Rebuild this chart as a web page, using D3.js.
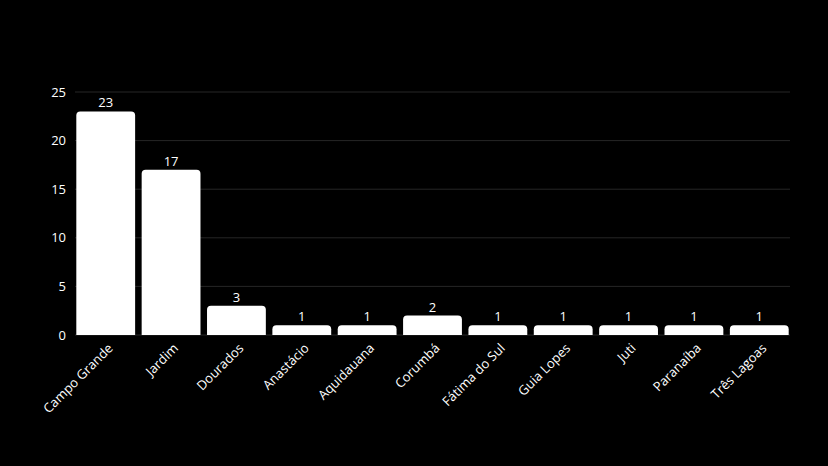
<!DOCTYPE html>
<html><head><meta charset="utf-8">
<script src="https://cdn.jsdelivr.net/npm/d3@7"></script>
<style>body{margin:0;background:#000}svg{display:block}text{font-family:"Open Sans",sans-serif}</style>
</head><body><svg id="c" width="828" height="466"></svg>
<script>
const categories = ["Campo Grande","Jardim","Dourados","Anastácio","Aquidauana","Corumbá","Fátima do Sul","Guia Lopes","Juti","Paranaíba","Três Lagoas"];
const values = [23,17,3,1,1,2,1,1,1,1,1];
const yTicks = [0,5,10,15,20,25];

const svg = d3.select("#c");
const m = {l:75, r:38, t:92, b:131};
const W = 828, H = 466;
const x = d3.scaleBand().domain(categories).range([m.l, W-m.r]).paddingInner(0.1).paddingOuter(0.02);
const y = d3.scaleLinear().domain([0,25]).range([H-m.b, m.t]);

svg.append("g").selectAll("line").data(yTicks).join("line")
  .attr("x1", m.l).attr("x2", W-m.r).attr("y1", d=>y(d)).attr("y2", d=>y(d))
  .attr("stroke", "#262626").attr("stroke-width", 1);

svg.append("g").selectAll("text").data(yTicks).join("text")
  .attr("x", 66).attr("y", d=>y(d)).attr("dy","0.35em").attr("text-anchor","end")
  .attr("fill","#fff").attr("font-size",13).text(d=>d);

const r = 4;
svg.append("g").selectAll("path").data(categories).join("path")
  .attr("fill","#fff")
  .attr("d",(c,i)=>{
    const x0=x(c), w=x.bandwidth(), y0=y(values[i]), yb=y(0);
    return `M${x0},${yb}V${y0+r}Q${x0},${y0} ${x0+r},${y0}H${x0+w-r}Q${x0+w},${y0} ${x0+w},${y0+r}V${yb}Z`;
  });

svg.append("g").selectAll("text").data(categories).join("text")
  .attr("x", c=>x(c)+x.bandwidth()/2).attr("y",(c,i)=>y(values[i])-4)
  .attr("text-anchor","middle").attr("fill","#fff").attr("font-size",13)
  .text((c,i)=>values[i]);

svg.append("g").selectAll("text").data(categories).join("text")
  .attr("transform", c=>`translate(${x(c)+x.bandwidth()/2+8},${H-m.b+14}) rotate(-45)`)
  .attr("text-anchor","end").attr("fill","#fff").attr("font-size",13)
  .text(c=>c);
</script></body></html>
